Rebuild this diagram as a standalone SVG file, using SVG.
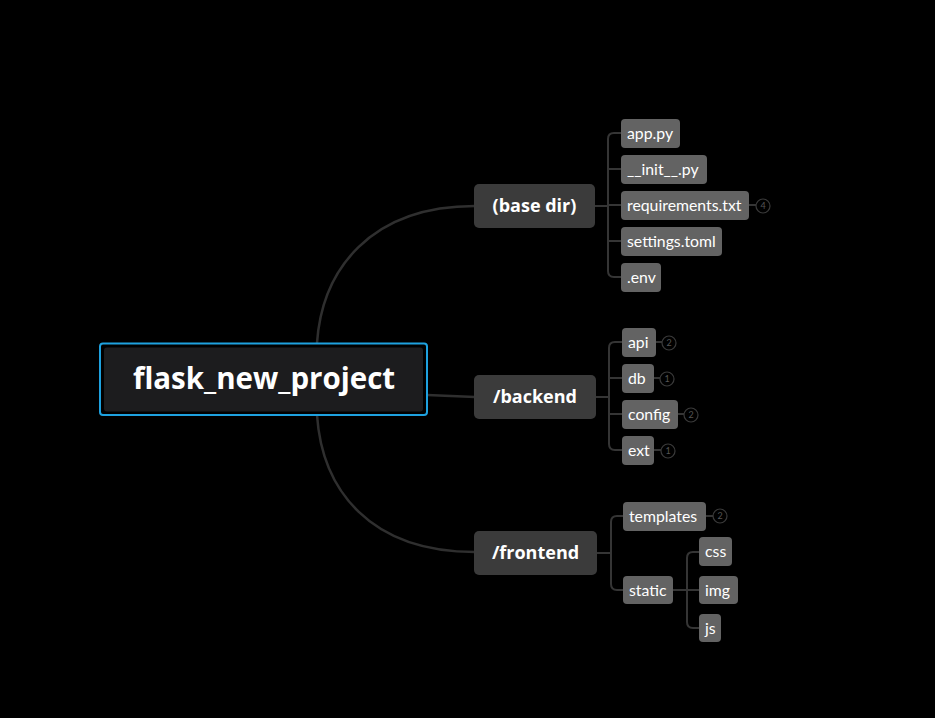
<svg xmlns="http://www.w3.org/2000/svg" width="935" height="718" viewBox="0 0 935 718">
<style>
.bg{fill:#000}
.curve{fill:none;stroke:#2f2f2f;stroke-width:2.5}
.conn{fill:none;stroke:#353535;stroke-width:2}
.main{fill:#3b3b3b}
.sub{fill:#636363}
.mt{font-family:"Open Sans","Lato",sans-serif;font-weight:700;font-size:18px;fill:#fff;text-anchor:middle}
.st{font-family:"Lato","Open Sans",sans-serif;font-size:15.8px;fill:#fff}
.badge{fill:#000;stroke:#3a3a3a;stroke-width:1.2}
.bt{font-family:"Lato",sans-serif;font-size:9px;fill:#555;text-anchor:middle}
</style>
<rect class="bg" x="0" y="0" width="935" height="718"/>
<g id="connectors">
<path class="curve" d="M317,343 C322,270 370,206 475,206"/>
<path class="curve" d="M427,395 L475,397"/>
<path class="curve" d="M317,415 C322,490 370,552 475,552"/>
<path class="conn" d="M595,206 H608"/>
<path class="conn" d="M621,133 H614 Q608,133 608,139 V271 Q608,277 614,277 H621"/>
<path class="conn" d="M608,169 H621 M608,205 H621 M608,241 H621"/>
<path class="conn" d="M596,397 H609"/>
<path class="conn" d="M622,342 H615 Q609,342 609,348 V444 Q609,450 615,450 H622"/>
<path class="conn" d="M609,378 H622 M609,414 H622"/>
<path class="conn" d="M597,553 H611"/>
<path class="conn" d="M623,516 H617 Q611,516 611,522 V584 Q611,590 617,590 H623"/>
<path class="conn" d="M673,590 H687"/>
<path class="conn" d="M699,552 H693 Q687,552 687,558 V622 Q687,628 693,628 H699"/>
<path class="conn" d="M687,590 H699"/>
<path class="conn" d="M749,205 H756 M656,342 H662 M654,378 H660 M678,414 H684 M654,450 H661 M705,516 H713"/>
</g>
<g id="root">
<rect x="100" y="343.5" width="327" height="71.5" rx="3" fill="none" stroke="#1ea1df" stroke-width="2"/>
<rect x="104" y="347.5" width="319" height="64" rx="3" fill="#1c1c1e"/>
<text x="264" y="389" font-family="'Open Sans',sans-serif" font-weight="700" font-size="29.5" fill="#fff" text-anchor="middle">flask_new_project</text>
</g>
<g id="base-dir">
<rect class="main" x="474" y="184" width="121" height="44" rx="5"/>
<text class="mt" x="534.5" y="212">(base dir)</text>
</g>
<g id="backend">
<rect class="main" x="474" y="375" width="122" height="44" rx="5"/>
<text class="mt" x="535" y="403">/backend</text>
</g>
<g id="frontend">
<rect class="main" x="474" y="531" width="123" height="44" rx="5"/>
<text class="mt" x="535.5" y="559">/frontend</text>
</g>
<g id="app-py"><rect class="sub" x="621" y="119" width="59" height="29" rx="4"/><text class="st" x="627" y="139">app.py</text></g>
<g id="init-py"><rect class="sub" x="621" y="155" width="86" height="29" rx="4"/><text class="st" x="627" y="175">__init__.py</text></g>
<g id="requirements"><rect class="sub" x="621" y="191" width="128" height="29" rx="4"/><text class="st" x="627" y="211">requirements.txt</text>
<circle class="badge" cx="763" cy="206" r="7"/><text class="bt" x="763" y="209">4</text></g>
<g id="settings"><rect class="sub" x="621" y="227" width="101" height="29" rx="4"/><text class="st" x="627" y="247">settings.toml</text></g>
<g id="env"><rect class="sub" x="621" y="263" width="40" height="29" rx="4"/><text class="st" x="627" y="283">.env</text></g>
<g id="api"><rect class="sub" x="622" y="328" width="34" height="29" rx="4"/><text class="st" x="628" y="348">api</text>
<circle class="badge" cx="669" cy="343" r="7"/><text class="bt" x="669" y="346">2</text></g>
<g id="db"><rect class="sub" x="622" y="364" width="32" height="29" rx="4"/><text class="st" x="628" y="384">db</text>
<circle class="badge" cx="667" cy="379" r="7"/><text class="bt" x="667" y="382">1</text></g>
<g id="config"><rect class="sub" x="622" y="400" width="56" height="29" rx="4"/><text class="st" x="628" y="420">config</text>
<circle class="badge" cx="691" cy="415" r="7"/><text class="bt" x="691" y="418">2</text></g>
<g id="ext"><rect class="sub" x="622" y="436" width="32" height="29" rx="4"/><text class="st" x="628" y="456">ext</text>
<circle class="badge" cx="668" cy="451" r="7"/><text class="bt" x="668" y="454">1</text></g>
<g id="templates"><rect class="sub" x="623" y="502" width="83" height="29" rx="4"/><text class="st" x="629" y="522">templates</text>
<circle class="badge" cx="720" cy="516" r="7"/><text class="bt" x="720" y="519">2</text></g>
<g id="static"><rect class="sub" x="623" y="576" width="50" height="28" rx="4"/><text class="st" x="629" y="596">static</text></g>
<g id="css"><rect class="sub" x="699" y="537" width="33" height="29" rx="4"/><text class="st" x="705" y="557">css</text></g>
<g id="img"><rect class="sub" x="699" y="576" width="39" height="28" rx="4"/><text class="st" x="705" y="596">img</text></g>
<g id="js"><rect class="sub" x="699" y="614" width="22" height="28" rx="4"/><text class="st" x="705" y="634">js</text></g>
</svg>
